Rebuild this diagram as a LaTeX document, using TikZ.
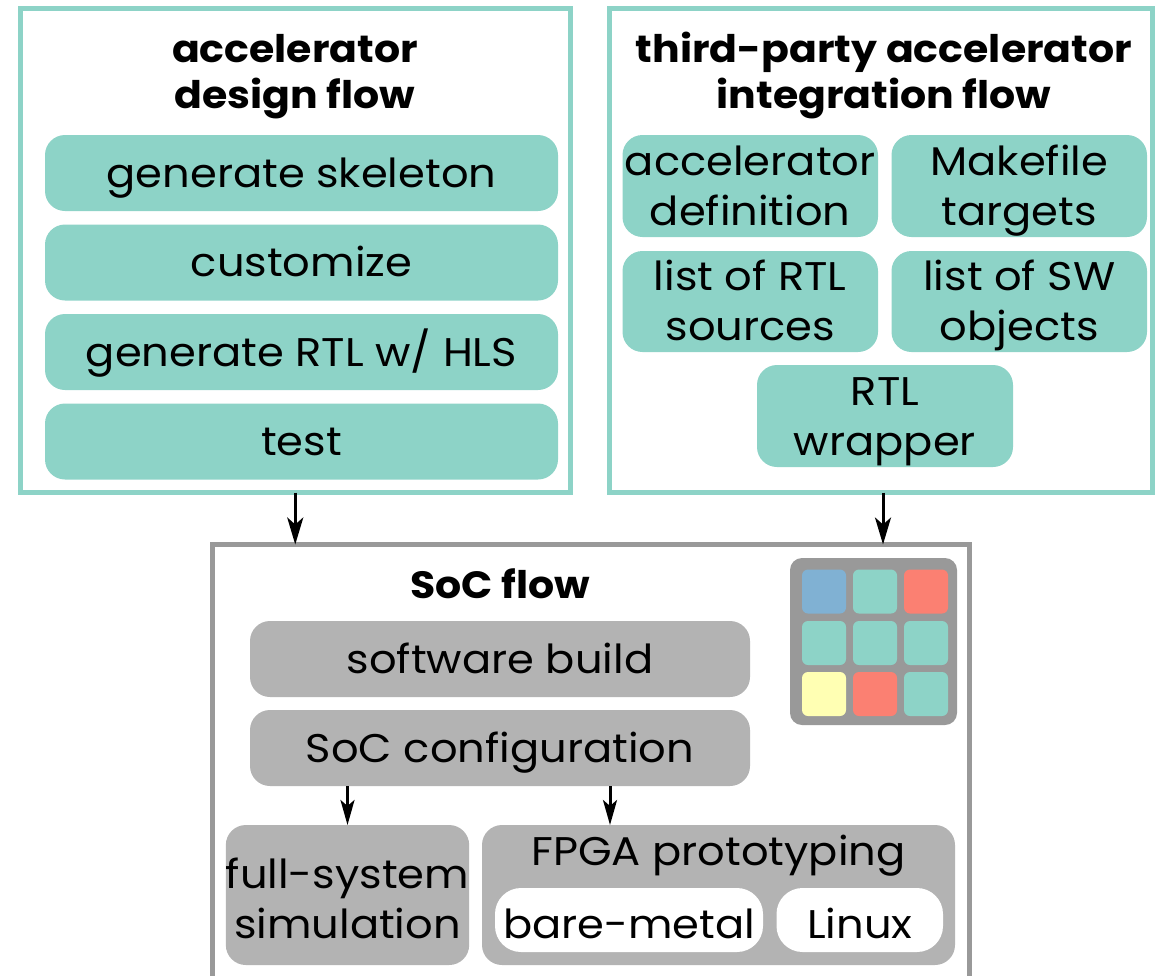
\documentclass[tikz,border=0pt]{standalone}
\usepackage{fontspec}
\setmainfont{Poppins}[FakeStretch=1.08]
\usetikzlibrary{arrows.meta}

\definecolor{flowteal}{HTML}{8DD3C7}
\definecolor{flowgray}{HTML}{999999}
\definecolor{pillgray}{HTML}{B3B3B3}
\definecolor{tileblue}{HTML}{80B1D3}
\definecolor{tilered}{HTML}{FB8072}
\definecolor{tileyellow}{HTML}{FFFFB3}

\newcommand{\bodyfont}{\fontsize{40}{50}\selectfont}
\newcommand{\headfont}{\fontsize{38}{46}\selectfont\bfseries}

\tikzset{
  flowbox/.style={draw=#1, line width=5pt, fill=none, inner sep=0pt, outer sep=0pt},
  pill/.style={fill=#1, draw=none, rounded corners=20pt, inner sep=0pt, outer sep=0pt,
    align=center, font=\bodyfont, text height=30pt, text depth=2pt},
  twoline/.style={text height=80pt},
  tealpill/.style={pill=flowteal},
  graypill/.style={pill=pillgray},
  whitepill/.style={pill=white, rounded corners=26pt},
  heading/.style={align=center, font=\headfont, text height=28pt, text depth=2pt, inner sep=0pt},
  tile/.style={fill=#1, draw=none, rounded corners=6pt, minimum size=44pt, inner sep=0pt},
  flowarrow/.style={line width=3pt, -{Stealth[length=27pt, width=16pt, inset=7pt]}},
  smallarrow/.style={line width=3pt, -{Stealth[length=25pt, width=14pt, inset=6pt]}}
}

\begin{document}
\begin{tikzpicture}[x=1pt, y=-1pt]
\useasboundingbox (0,0) rectangle (1158,975);
\clip (0,0) rectangle (1158,975);

% accelerator design flow
\node[flowbox=flowteal, minimum width=550.5pt, minimum height=484pt] (adf) at (295.25,250.5) {};
\node[heading, text height=74pt] (adft) at (295,72) {accelerator\\design flow};
\node[tealpill, minimum width=513pt, minimum height=76pt] (skel) at (301.5,173) {generate skeleton};
\node[tealpill, minimum width=513pt, minimum height=76pt] (cust) at (301.5,262.5) {customize};
\node[tealpill, minimum width=513pt, minimum height=76pt] (hls) at (301.5,352) {generate RTL w/ HLS};
\node[tealpill, minimum width=513pt, minimum height=76pt] (test) at (301.5,441.5) {test};

% third-party accelerator integration flow
\node[flowbox=flowteal, minimum width=542.5pt, minimum height=484pt] (itf) at (880.75,250.5) {};
\node[heading, text height=74pt] (itft) at (884,72) {third-party accelerator\\integration flow};
\node[tealpill, twoline, minimum width=255.5pt, minimum height=102pt] (adef) at (750.25,186) {accelerator\\definition};
\node[tealpill, twoline, minimum width=255.5pt, minimum height=102pt] (make) at (1019.25,186) {Makefile\\targets};
\node[tealpill, twoline, minimum width=255.5pt, minimum height=101pt] (rtls) at (750.25,301.5) {list of RTL\\sources};
\node[tealpill, twoline, minimum width=255.5pt, minimum height=101pt] (swo) at (1019.25,301.5) {list of SW\\objects};
\node[tealpill, twoline, minimum width=256pt, minimum height=102pt] (wrap) at (885,416) {RTL\\wrapper};

% SoC flow
\node[flowbox=flowgray, minimum width=757pt, minimum height=460pt] (soc) at (590.5,774.5) {};
\node[heading] (soct) at (500,585) {SoC flow};
\node[graypill, minimum width=500pt, minimum height=76pt] (swb) at (500,659) {software build};
\node[graypill, minimum width=500pt, minimum height=76pt] (cfg) at (500,748) {SoC configuration};
\node[graypill, minimum width=241pt, minimum height=140pt, text height=88pt] (fss) at (347.5,895) {full-system\\simulation};
\node[graypill, minimum width=473pt, minimum height=140pt] (fpga) at (718.5,895) {};
\node[font=\bodyfont, anchor=base, inner sep=0pt] (fpgat) at (718.5,865) {FPGA prototyping};
\node[whitepill, minimum width=268pt, minimum height=64pt, text height=38pt] (bare) at (629,920) {bare-metal};
\node[whitepill, minimum width=166.5pt, minimum height=64pt, text height=38pt] (linux) at (859.75,920) {Linux};

% tiled accelerator grid
\node[fill=flowgray, draw=none, rounded corners=12pt, minimum size=167pt, inner sep=0pt] (grid) at (873.5,641.5) {};
\node[tile=tileblue]   (g11) at (824,591.5) {};
\node[tile=flowteal]   (g12) at (875,591.5) {};
\node[tile=tilered]    (g13) at (926,591.5) {};
\node[tile=flowteal]   (g21) at (824,643) {};
\node[tile=flowteal]   (g22) at (875,643) {};
\node[tile=flowteal]   (g23) at (926,643) {};
\node[tile=tileyellow] (g31) at (824,694) {};
\node[tile=tilered]    (g32) at (875,694) {};
\node[tile=flowteal]   (g33) at (926,694) {};

% connectors
\draw[flowarrow] (adf.south) -- (adf.south |- soc.north);
\coordinate (itfout) at (883,492.5);
\draw[flowarrow] (itfout) -- (itfout |- soc.north);
\draw[smallarrow] (cfg.south -| fss.north) -- (fss.north);
\coordinate (cfgout) at (610,786);
\draw[smallarrow] (cfgout) -- (cfgout |- fpga.north);
\end{tikzpicture}
\end{document}
